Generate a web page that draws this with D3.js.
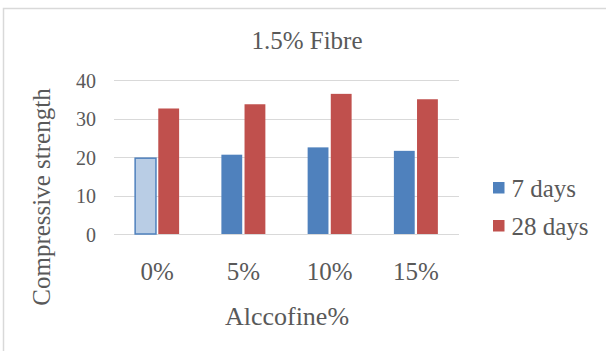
<!DOCTYPE html>
<html>
<head>
<meta charset="utf-8">
<script src="https://cdn.jsdelivr.net/npm/d3@7/dist/d3.min.js"></script>
<style>
  html, body { margin: 0; padding: 0; background: #ffffff; }
  svg text { font-family: 'Liberation Serif', 'DejaVu Serif', serif; fill: #595959; }
</style>
</head>
<body>
<svg id="chart" width="606" height="351"></svg>
<script>
// Alccofine content groups
const categories = ["0%", "5%", "10%", "15%"];
// Series names
const seriesNames = ["7 days", "28 days"];
// Compressive strength per curing age
const days7 = [19.7, 20.6, 22.5, 21.6];
const days28 = [32.6, 33.7, 36.4, 35.0];
// Y axis ticks
const yTicks = [0, 10, 20, 30, 40];

const colors = { "7 days": "#4f81bd", "28 days": "#c0504d" };
const FONT = "'Liberation Serif', 'DejaVu Serif', serif";

const svg = d3.select("#chart");

// chart area frame
svg.append("rect").attr("x", 0).attr("y", 0).attr("width", 606).attr("height", 351).attr("fill", "#fff");
svg.append("path")
  .attr("d", "M3.5,351 L3.5,8.5 L606,8.5")
  .attr("fill", "none").attr("stroke", "#d9d9d9").attr("stroke-width", 1.5);

const plot = { left: 114, right: 459, top: 80, bottom: 234 };

const x0 = d3.scaleBand().domain(categories)
  .range([plot.left, plot.right]).paddingInner(0.49).paddingOuter(0.245);
const x1 = d3.scaleBand().domain(seriesNames)
  .range([0, x0.bandwidth()]).paddingInner(0.1);
const y = d3.scaleLinear().domain([0, 40]).range([plot.bottom, plot.top]);

// gridlines
svg.append("g").selectAll("line").data(yTicks).join("line")
  .attr("x1", plot.left).attr("x2", plot.right)
  .attr("y1", d => Math.round(y(d)) + 0.5).attr("y2", d => Math.round(y(d)) + 0.5)
  .attr("stroke", "#d9d9d9").attr("stroke-width", 1.2);

// y axis labels
const yAxis = d3.axisLeft(y).tickValues(yTicks).tickSize(0).tickPadding(0);
const gy = svg.append("g").attr("transform", `translate(${plot.left - 18},0)`).call(yAxis)
  .attr("font-family", FONT);
gy.select(".domain").remove();
gy.selectAll("text").attr("font-size", 20).attr("dy", "0.36em")
  .attr("font-family", FONT).attr("fill", "#595959");

// x axis labels
const xAxis = d3.axisBottom(x0).tickSize(0).tickPadding(0);
const gx = svg.append("g").attr("transform", `translate(0,${plot.bottom + 46})`).call(xAxis)
  .attr("font-family", FONT);
gx.select(".domain").remove();
gx.selectAll("text").attr("font-size", 25).attr("dy", 0)
  .attr("font-family", FONT).attr("fill", "#595959");

// bars
const rows = categories.map((c, i) => ({ cat: c, values: [
  { key: "7 days", value: days7[i], idx: i },
  { key: "28 days", value: days28[i], idx: i }
]}));

const groups = svg.append("g").selectAll("g").data(rows).join("g")
  .attr("transform", d => `translate(${x0(d.cat)},0)`);

groups.selectAll("rect").data(d => d.values).join("rect")
  .attr("x", d => x1(d.key))
  .attr("width", x1.bandwidth())
  .attr("y", d => y(d.value))
  .attr("height", d => y(0) - y(d.value))
  .attr("fill", d => (d.key === "7 days" && d.idx === 0) ? "#b9cde5" : colors[d.key])
  .attr("stroke", d => (d.key === "7 days" && d.idx === 0) ? "#4f81bd" : "none")
  .attr("stroke-width", 1.5);

// title
svg.append("text").attr("x", 307).attr("y", 49).attr("text-anchor", "middle")
  .attr("font-family", FONT).attr("font-size", 25).text("1.5% Fibre");

// axis titles
svg.append("text").attr("transform", "translate(50,197) rotate(-90)")
  .attr("font-family", FONT).attr("text-anchor", "middle").attr("font-size", 25).text("Compressive strength");
svg.append("text").attr("x", 287).attr("y", 325).attr("text-anchor", "middle")
  .attr("font-family", FONT).attr("font-size", 26).text("Alccofine%");

// legend
const legend = svg.append("g").selectAll("g").data(seriesNames).join("g")
  .attr("transform", (d, i) => `translate(493,${182 + i * 38})`);
legend.append("rect").attr("width", 11.5).attr("height", 11.5).attr("fill", d => colors[d]);
legend.append("text").attr("x", 18.5).attr("y", 15)
  .attr("font-family", FONT).attr("font-size", 25).text(d => d);
</script>
</body>
</html>
